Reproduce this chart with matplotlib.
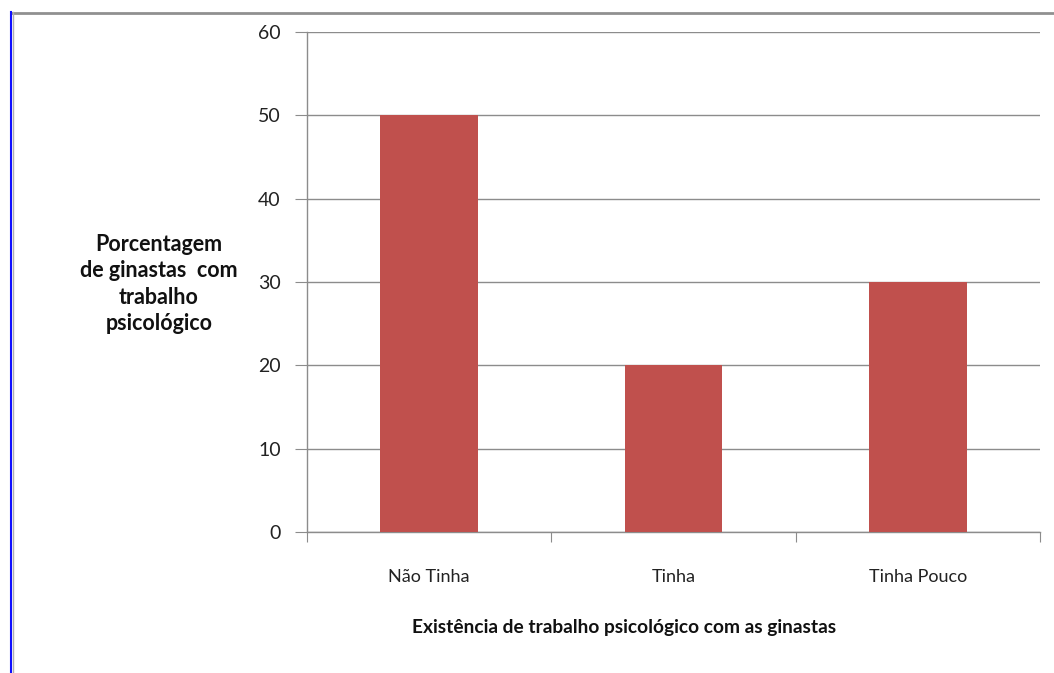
import matplotlib.pyplot as plt
from matplotlib.lines import Line2D

categories = ['Não Tinha', 'Tinha', 'Tinha Pouco']
values = [50, 20, 30]
yticks = [0, 10, 20, 30, 40, 50, 60]

plt.rcParams['font.family'] = ['Lato', 'DejaVu Sans']

W, H = 1054, 673
fig = plt.figure(figsize=(W / 100, H / 100), dpi=100)

# plot area in pixels: x 307..1040, y 32..532
ax = fig.add_axes([307 / W, 1 - 532 / H, (1040 - 307) / W, (532 - 32) / H])

x = list(range(len(categories)))
ax.bar(x, values, width=0.4, color='#C0504D', zorder=3)

ax.set_xlim(-0.5, len(categories) - 0.5)
ax.set_ylim(0, 60)
ax.set_yticks(yticks)
ax.set_yticklabels([str(t) for t in yticks], fontsize=14, color='#222222')
ax.yaxis.grid(True, color='#8c8c8c', linewidth=1.0, zorder=0)

ax.set_xticks([i - 0.5 for i in range(len(categories) + 1)], minor=False)
ax.set_xticklabels([])
ax.set_xticks(x, minor=True)
ax.set_xticklabels(categories, minor=True, fontsize=13, color='#222222')
ax.tick_params(axis='x', which='major', length=7, color='#8c8c8c', direction='out')
ax.tick_params(axis='x', which='minor', length=0, pad=27)
ax.tick_params(axis='y', length=9, color='#8c8c8c', pad=10)

for s in ['top', 'right']:
    ax.spines[s].set_visible(False)
for s in ['left', 'bottom']:
    ax.spines[s].set_color('#8c8c8c')
    ax.spines[s].set_linewidth(1.0)

fig.text(159 / W, 1 - 284 / H, 'Porcentagem\nde ginastas  com\ntrabalho\npsicológico',
         ha='center', va='center', fontsize=15.5, fontweight='bold',
         linespacing=1.3, color='#111111')
fig.text(624 / W, 1 - 627 / H, 'Existência de trabalho psicológico com as ginastas',
         ha='center', va='center', fontsize=13.8, fontweight='bold', color='#111111')

# frame lines from the screenshot
fig.add_artist(Line2D([11 / W, 1], [1 - 12.5 / H, 1 - 12.5 / H], color='#909090', linewidth=2))
fig.add_artist(Line2D([11 / W, 11 / W], [0, 1 - 12 / H], color='#1010ff', linewidth=1.5))
fig.add_artist(Line2D([13 / W, 13 / W], [0, 1 - 12 / H], color='#b0b0b0', linewidth=1))

fig.savefig('out.png', dpi=100)
